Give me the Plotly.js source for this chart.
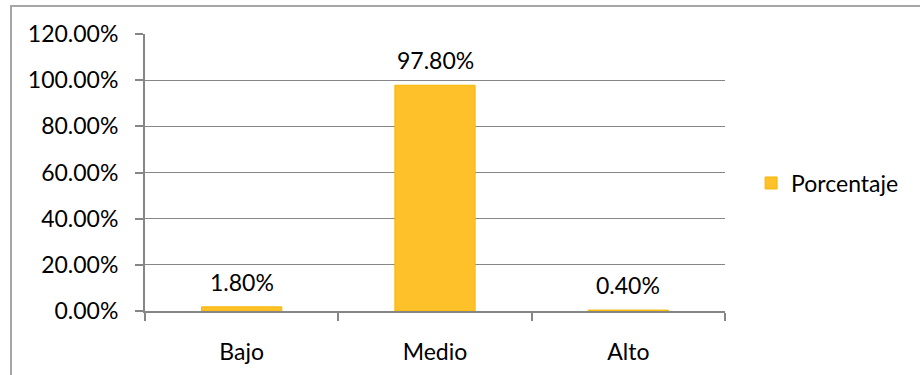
<!DOCTYPE html>
<html>
<head>
<meta charset="utf-8">
<script src="https://cdn.plot.ly/plotly-3.0.1.min.js"></script>
<style>
  html, body { margin: 0; padding: 0; background: #ffffff; }
  #wrap { position: relative; width: 920px; height: 375px; overflow: hidden; }
  #frame { position: absolute; left: 10px; top: 5px; width: 920px; height: 380px;
           border-left: 2px solid #a6a6a6; border-top: 2px solid #a6a6a6; box-sizing: border-box; }
  #chart { position: absolute; left: 0; top: 0; width: 920px; height: 375px; }
</style>
</head>
<body>
<div id="wrap">
  <div id="frame"></div>
  <div id="chart"></div>
</div>
<script>
const categories = ["Bajo", "Medio", "Alto"];
const porcentaje = [0.018, 0.978, 0.004];
const dataLabels = ["1.80%", "97.80%", "0.40%"];
const seriesName = "Porcentaje";
const yTickVals = [0, 0.2, 0.4, 0.6, 0.8, 1.0, 1.2];
const yTickText = ["0.00%", "20.00%", "40.00%", "60.00%", "80.00%", "100.00%", "120.00%"];

const FONT = "Lato, 'Open Sans', sans-serif";
const FS = 23;

const trace = {
  type: "bar",
  x: categories,
  y: porcentaje,
  name: seriesName,
  marker: { color: "#FEC12A", line: { color: "#F5B800", width: 1 } },
  hoverinfo: "none"
};

const annotations = categories.map((c, i) => ({
  x: c, y: porcentaje[i], xref: "x", yref: "y",
  text: dataLabels[i], showarrow: false,
  yanchor: "bottom", yshift: 9,
  font: { family: FONT, size: FS, color: "#000000" }
}));

const layout = {
  width: 920,
  height: 375,
  margin: { l: 145, r: 195, t: 34, b: 64 },
  paper_bgcolor: "rgba(0,0,0,0)",
  plot_bgcolor: "rgba(0,0,0,0)",
  font: { family: FONT, size: FS, color: "#000000" },
  bargap: 0.585,
  showlegend: true,
  annotations: annotations,
  legend: {
    x: 1.045, y: 0.462, xanchor: "left", yanchor: "middle",
    font: { family: FONT, size: FS, color: "#000000" },
    bgcolor: "rgba(0,0,0,0)",
    itemwidth: 30
  },
  xaxis: {
    type: "category",
    showline: true, linecolor: "#868686", linewidth: 2,
    ticks: "outside", tickson: "boundaries", ticklen: 8, tickcolor: "#868686", tickwidth: 2,
    showgrid: false,
    tickfont: { family: FONT, size: FS, color: "#000000" },
    ticklabelstandoff: 19,
    fixedrange: true
  },
  yaxis: {
    range: [0, 1.2],
    tickvals: yTickVals,
    ticktext: yTickText,
    showline: true, linecolor: "#868686", linewidth: 2,
    ticks: "outside", ticklen: 8, tickcolor: "#868686", tickwidth: 2,
    showgrid: true, gridcolor: "#868686", gridwidth: 1.3,
    zeroline: false,
    tickfont: { family: FONT, size: FS, color: "#000000" },
    ticklabelstandoff: 12,
    fixedrange: true
  }
};

Plotly.newPlot("chart", [trace], layout, { displayModeBar: false, staticPlot: true });
</script>
</body>
</html>
